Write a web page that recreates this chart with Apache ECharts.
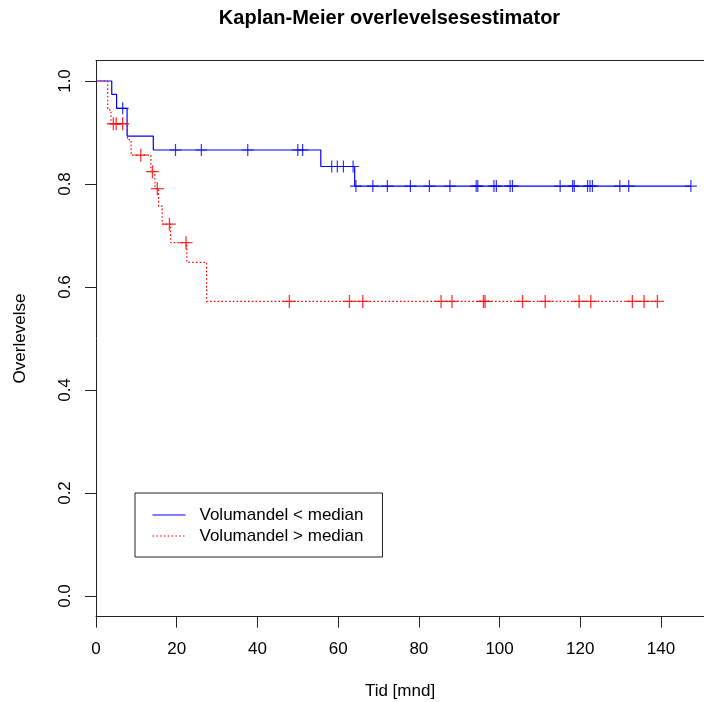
<!DOCTYPE html>
<html>
<head>
<meta charset="utf-8">
<script src="https://cdn.jsdelivr.net/npm/echarts@6/dist/echarts.min.js"></script>
<style>
  html, body { margin: 0; padding: 0; background: #fff; }
  #main { width: 704px; height: 702px; }
</style>
</head>
<body>
<div id="main"></div>
<script>
  'use strict';

  // step points of the two survival curves (time in months, survival)
  var blueTimes = [0, 3.9, 5.1, 7.7, 14.2, 55.7, 64.1, 147.4];
  var blueSurv = [1, 0.974, 0.947, 0.893, 0.866, 0.834, 0.796, 0.796];
  var blueCensor = [6.6, 19.7, 26.1, 37.6, 50.0, 51.2, 58.4, 59.8, 61.3, 63.7, 64.4, 68.6,
    72.2, 77.9, 82.6, 87.7, 94.2, 94.6, 98.6, 99.2, 102.6, 103.2, 115.0, 118.1, 118.5,
    121.8, 122.4, 123.0, 129.8, 132.0, 147.4];

  var redTimes = [0, 2.9, 3.7, 7.8, 8.7, 13.6, 14.6, 15.5, 16.4, 18.5, 22.5, 27.4, 139.1];
  var redSurv = [1, 0.944, 0.917, 0.886, 0.856, 0.824, 0.791, 0.757, 0.722, 0.686, 0.648, 0.572, 0.572];
  var redCensor = [4.3, 5.0, 6.6, 11.1, 14.0, 15.2, 18.2, 22.3, 47.9, 62.8, 66.1, 85.5, 88.2,
    96.0, 96.4, 105.7, 111.3, 119.7, 122.6, 132.9, 135.8, 139.1];

  var xTicks = [0, 20, 40, 60, 80, 100, 120, 140];
  var yTicks = [0, 0.2, 0.4, 0.6, 0.8, 1.0];

  var groupNames = ['Volumandel < median', 'Volumandel > median'];

  var font = 'Liberation Sans';

  function pairs(times, surv) {
    return times.map(function (t, i) { return [t, surv[i]]; });
  }

  // censor marks sit on the curve level at their time
  function marks(censor, times, surv) {
    return censor.map(function (c) {
      var s = surv[0];
      for (var i = 0; i < times.length; i++) {
        if (times[i] <= c) s = surv[i];
      }
      return [c, s];
    });
  }

  var plus = 'path://M6,0L6,12M0,6L12,6';
  var boxLine = { show: true, onZero: false, lineStyle: { color: '#222', width: 1 } };

  var myChart = echarts.init(document.getElementById('main'));

  myChart.setOption({
    animation: false,
    backgroundColor: '#fff',
    textStyle: { fontFamily: font },
    // plot box runs past the right edge of the picture, so only three sides show
    grid: {
      left: 96,
      top: 60.4,
      right: 0,
      height: 556.2,
      outerBoundsMode: 'none'
    },
    graphic: [{
      type: 'text',
      x: 389.5,
      y: 18,
      style: {
        text: 'Kaplan-Meier overlevelsesestimator',
        font: 'bold 20px "Liberation Sans"',
        fill: '#000',
        textAlign: 'center',
        textVerticalAlign: 'middle'
      }
    }],
    legend: {
      orient: 'vertical',
      left: 135,
      top: 493,
      padding: [12, 19, 11, 17],
      itemWidth: 33,
      itemHeight: 14,
      itemGap: 1,
      backgroundColor: '#fff',
      borderColor: '#222',
      borderWidth: 1,
      borderRadius: 0,
      itemStyle: { opacity: 0 },
      lineStyle: { width: 1 },
      textStyle: { fontSize: 17, color: '#000', lineHeight: 20, padding: [0, 0, 0, 9], fontFamily: font },
      data: groupNames
    },
    xAxis: [{
      type: 'value',
      min: 0,
      max: 150.65,
      name: 'Tid [mnd]',
      nameLocation: 'middle',
      nameGap: 66,
      nameTextStyle: { fontSize: 17, color: '#000' },
      axisLine: boxLine,
      splitLine: { show: false },
      axisTick: { show: true, length: 11, customValues: xTicks, lineStyle: { color: '#222' } },
      axisLabel: { fontSize: 17, color: '#000', margin: 24, customValues: xTicks }
    }, {
      type: 'value',
      position: 'top',
      min: 0,
      max: 150.65,
      axisLine: boxLine,
      axisTick: { show: false },
      axisLabel: { show: false },
      splitLine: { show: false }
    }],
    yAxis: {
      type: 'value',
      min: -0.04,
      max: 1.04,
      name: 'Overlevelse',
      nameLocation: 'middle',
      nameGap: 67,
      nameTextStyle: { fontSize: 17, color: '#000' },
      axisLine: boxLine,
      splitLine: { show: false },
      axisTick: { show: true, length: 11, customValues: yTicks, lineStyle: { color: '#222' } },
      axisLabel: {
        fontSize: 17,
        color: '#000',
        rotate: 90,
        margin: 22,
        customValues: yTicks,
        formatter: function (v) { return v.toFixed(1); }
      }
    },
    series: [{
      name: groupNames[0],
      type: 'line',
      step: 'end',
      symbol: 'none',
      data: pairs(blueTimes, blueSurv),
      lineStyle: { color: '#0000ff', width: 1.2 },
      itemStyle: { color: '#0000ff' },
      z: 3
    }, {
      name: groupNames[1],
      type: 'line',
      step: 'end',
      symbol: 'none',
      data: pairs(redTimes, redSurv),
      lineStyle: { color: '#ff0000', width: 1.2, type: [1.6, 2.2] },
      itemStyle: { color: '#ff0000' },
      z: 3
    }, {
      name: 'blueCensor',
      type: 'scatter',
      symbol: plus,
      symbolSize: 12,
      data: marks(blueCensor, blueTimes, blueSurv),
      itemStyle: { color: 'transparent', borderColor: '#0000ff', borderWidth: 1.2 },
      z: 4
    }, {
      name: 'redCensor',
      type: 'scatter',
      symbol: plus,
      symbolSize: 13,
      data: marks(redCensor, redTimes, redSurv),
      itemStyle: { color: 'transparent', borderColor: '#ff0000', borderWidth: 1.3 },
      z: 4
    }]
  });
</script>
</body>
</html>
